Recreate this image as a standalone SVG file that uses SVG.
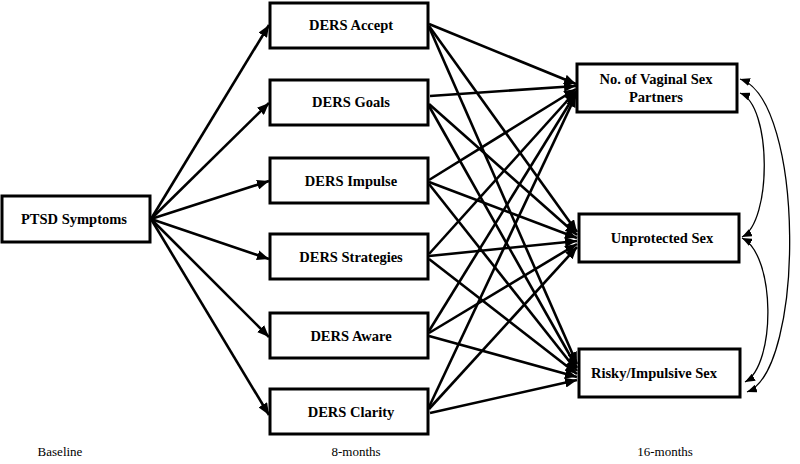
<svg xmlns="http://www.w3.org/2000/svg" width="800" height="464" viewBox="0 0 800 464">
<style>
.box{fill:#fff;stroke:#000;stroke-width:3}
.lbl{font-family:"Liberation Serif","Times New Roman",serif;font-weight:bold;font-size:14.5px;text-anchor:middle;fill:#000}
.cap{font-family:"Liberation Serif","Times New Roman",serif;font-size:13px;text-anchor:middle;fill:#000}
.ar{stroke:#000;stroke-width:2.6;fill:none;marker-end:url(#ah)}
.cv{stroke:#000;stroke-width:1.3;fill:none;marker-start:url(#sh);marker-end:url(#sh)}
</style>
<defs>
<marker id="ah" markerUnits="userSpaceOnUse" viewBox="0 0 12 10" refX="12" refY="5" markerWidth="12" markerHeight="10" orient="auto"><path d="M0,0 L12,5 L0,10 z" fill="#000"/></marker>
<marker id="sh" markerUnits="userSpaceOnUse" viewBox="0 0 10 8" refX="10" refY="4" markerWidth="10" markerHeight="8" orient="auto-start-reverse"><path d="M0,0 L10,4 L0,8 z" fill="#000"/></marker>
</defs>
<rect width="800" height="464" fill="#fff"/>
<g id="connectors">
<line class="ar" x1="151" y1="219" x2="269" y2="25"/>
<line class="ar" x1="151" y1="219" x2="269" y2="103"/>
<line class="ar" x1="151" y1="219" x2="269" y2="181"/>
<line class="ar" x1="151" y1="219" x2="269" y2="259"/>
<line class="ar" x1="151" y1="219" x2="269" y2="337"/>
<line class="ar" x1="151" y1="219" x2="269" y2="415"/>

<line class="ar" x1="429" y1="24" x2="576" y2="84"/>
<line class="ar" x1="429" y1="26" x2="577" y2="232"/>
<line class="ar" x1="429" y1="27" x2="577" y2="364"/>

<line class="ar" x1="430" y1="96" x2="576" y2="86"/>
<line class="ar" x1="429" y1="104" x2="577" y2="235"/>
<line class="ar" x1="429" y1="106" x2="577" y2="368"/>

<line class="ar" x1="429" y1="180" x2="576" y2="89"/>
<line class="ar" x1="429" y1="182" x2="577" y2="238"/>
<line class="ar" x1="429" y1="184" x2="577" y2="371"/>

<line class="ar" x1="429" y1="254" x2="576" y2="91"/>
<line class="ar" x1="429" y1="256" x2="577" y2="241"/>
<line class="ar" x1="429" y1="259" x2="577" y2="374"/>

<line class="ar" x1="429" y1="331" x2="576" y2="93"/>
<line class="ar" x1="429" y1="333" x2="577" y2="244"/>
<line class="ar" x1="429" y1="336" x2="577" y2="377"/>

<line class="ar" x1="429" y1="407" x2="576" y2="95"/>
<line class="ar" x1="429" y1="409" x2="577" y2="247"/>
<line class="ar" x1="430" y1="413" x2="577" y2="380"/>

<path class="cv" d="M740,93 C772,105 772,222 742,237"/>
<path class="cv" d="M742,238 C776,255 776,365 745,382"/>
<path class="cv" d="M740,79 C805,100 805,370 747,392"/>
</g>
<g id="ptsd"><rect class="box" x="2" y="196" width="148" height="46"/><text class="lbl" x="74" y="224">PTSD Symptoms</text></g>
<g id="accept"><rect class="box" x="270" y="3" width="158" height="45"/><text class="lbl" x="351" y="30">DERS Accept</text></g>
<g id="goals"><rect class="box" x="270" y="80" width="158" height="45"/><text class="lbl" x="351" y="107">DERS Goals</text></g>
<g id="impulse"><rect class="box" x="270" y="158" width="158" height="45"/><text class="lbl" x="351" y="186">DERS Impulse</text></g>
<g id="strategies"><rect class="box" x="270" y="234" width="158" height="45"/><text class="lbl" x="351" y="262">DERS Strategies</text></g>
<g id="aware"><rect class="box" x="270" y="313" width="158" height="45"/><text class="lbl" x="351" y="341">DERS Aware</text></g>
<g id="clarity"><rect class="box" x="270" y="389" width="158" height="45"/><text class="lbl" x="351" y="417">DERS Clarity</text></g>
<g id="vaginal"><rect class="box" x="577" y="64" width="160" height="48"/><text class="lbl" x="656" y="84">No. of Vaginal Sex</text><text class="lbl" x="656" y="102">Partners</text></g>
<g id="unprotected"><rect class="box" x="579" y="214" width="160" height="48"/><text class="lbl" x="662" y="243">Unprotected Sex</text></g>
<g id="risky"><rect class="box" x="579" y="349" width="161" height="48"/><text class="lbl" x="654" y="378">Risky/Impulsive Sex</text></g>
<g id="captions">
<text class="cap" x="60" y="456">Baseline</text>
<text class="cap" x="356" y="456">8-months</text>
<text class="cap" x="665" y="456">16-months</text>
</g>
</svg>
